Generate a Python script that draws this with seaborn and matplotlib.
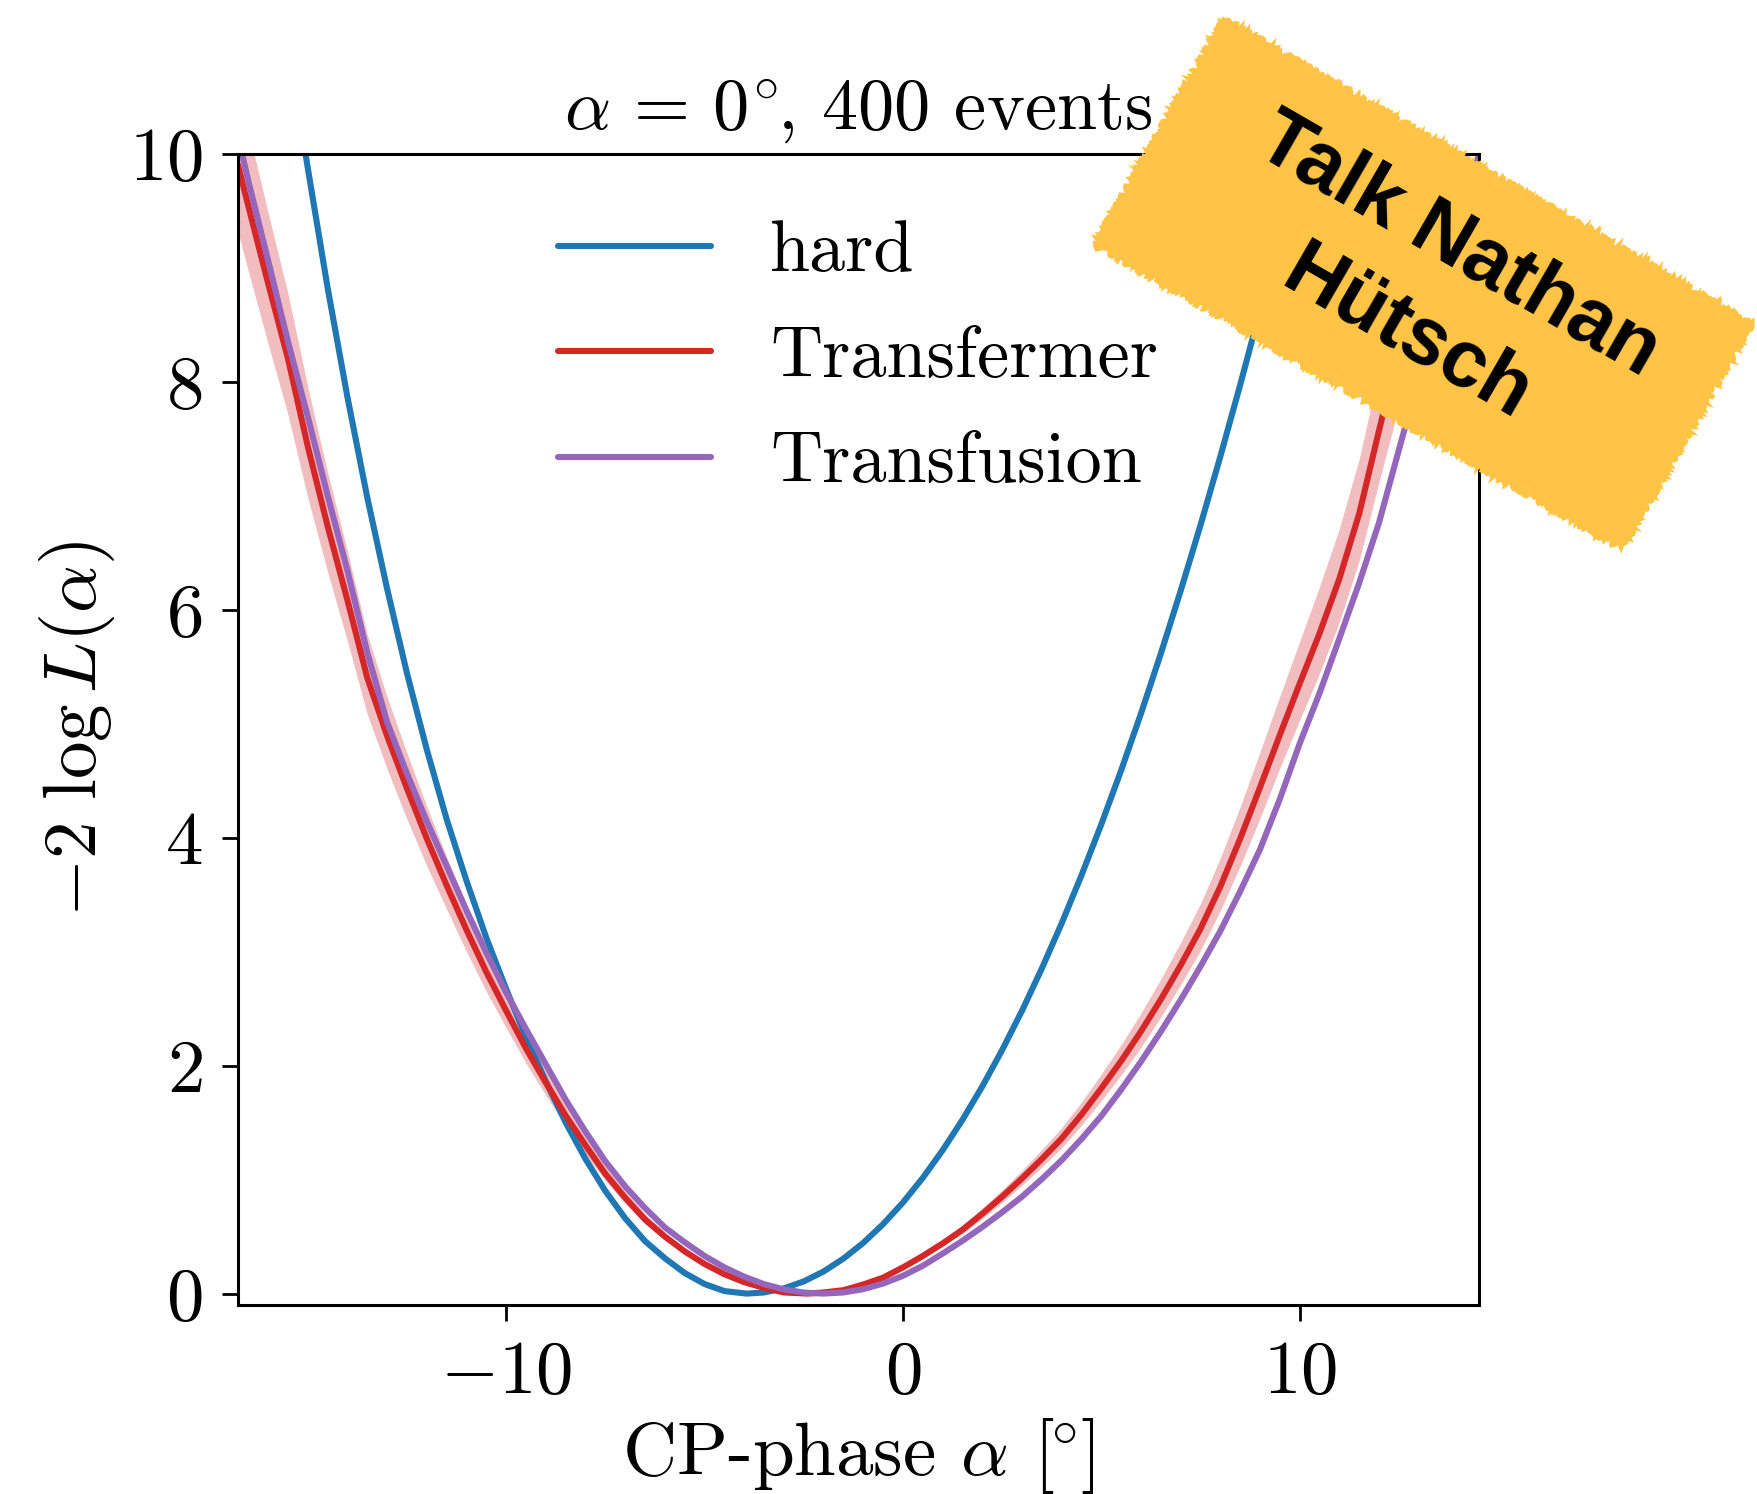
import numpy as np
import pandas as pd
import matplotlib
matplotlib.use("Agg")
import matplotlib.pyplot as plt
from matplotlib.lines import Line2D
from matplotlib.patches import Polygon
import seaborn as sns

# Profile likelihood scans, -2 log L versus CP phase alpha (degrees)
hard_x = [-16.76, -16.0, -15.5, -15.0, -14.5, -14.0, -13.5, -13.0, -12.5, -12.0,
          -11.5, -11.0, -10.5, -10.0, -9.5, -9.0, -8.5, -8.0, -7.5, -7.0,
          -6.5, -6.0, -5.5, -5.0, -4.5, -3.94, -3.5, -3.0, -2.5, -2.0,
          -1.5, -1.0, -0.5, 0.0, 0.5, 1.0, 1.5, 2.0, 2.5, 3.0,
          3.5, 4.0, 4.5, 5.0, 5.5, 6.0, 6.5, 7.0, 7.5, 8.0,
          8.5, 9.0, 9.5, 10.0, 10.5]
hard_y = [14.10, 12.20, 10.98, 9.87, 8.82, 7.86, 6.98, 6.18, 5.44, 4.77,
          4.16, 3.62, 3.12, 2.67, 2.25, 1.86, 1.50, 1.18, 0.90, 0.66,
          0.46, 0.31, 0.18, 0.084, 0.022, 0.0, 0.010, 0.046, 0.107, 0.194,
          0.307, 0.445, 0.609, 0.799, 1.015, 1.257, 1.524, 1.817, 2.136, 2.480,
          2.851, 3.247, 3.669, 4.116, 4.589, 5.088, 5.613, 6.164, 6.740, 7.342,
          7.970, 8.623, 9.39, 10.22, 11.05]

transfermer_x = [-16.76, -16.5, -16.0, -15.5, -15.0, -14.5, -14.0, -13.5, -13.0, -12.5,
                 -12.0, -11.5, -11.0, -10.5, -10.0, -9.5, -9.0, -8.5, -8.0, -7.5,
                 -7.0, -6.5, -6.0, -5.5, -5.0, -4.5, -4.0, -3.5, -3.0, -2.4,
                 -2.0, -1.5, -1.0, -0.5, 0.0, 0.5, 1.0, 1.5, 2.0, 2.5,
                 3.0, 3.5, 4.0, 4.5, 5.0, 5.5, 6.0, 6.5, 7.0, 7.5,
                 8.0, 8.5, 9.0, 9.5, 10.0, 10.5, 11.0, 11.5, 12.0, 12.5,
                 13.0, 13.5, 14.0, 14.52]
transfermer_y = [9.90, 9.54, 8.86, 8.20, 7.43, 6.73, 6.08, 5.40, 4.89, 4.43,
                 3.99, 3.58, 3.19, 2.82, 2.48, 2.15, 1.85, 1.56, 1.30, 1.05,
                 0.84, 0.65, 0.50, 0.37, 0.26, 0.17, 0.10, 0.05, 0.01, 0.00,
                 0.01, 0.03, 0.08, 0.14, 0.23, 0.33, 0.44, 0.56, 0.70, 0.85,
                 1.01, 1.18, 1.36, 1.57, 1.80, 2.04, 2.30, 2.58, 2.88, 3.20,
                 3.57, 3.99, 4.44, 4.90, 5.35, 5.79, 6.27, 6.84, 7.57, 8.28,
                 8.89, 9.56, 10.25, 10.99]
# spread of the Transfermer scan above / below the central curve
transfermer_err_up = [0.69, 0.67, 0.62, 0.57, 0.52, 0.47, 0.43, 0.38, 0.34, 0.31,
                      0.28, 0.25, 0.22, 0.20, 0.17, 0.15, 0.13, 0.11, 0.09, 0.07,
                      0.06, 0.05, 0.035, 0.026, 0.018, 0.012, 0.007, 0.004, 0.001, 0.0,
                      0.001, 0.002, 0.006, 0.010, 0.016, 0.023, 0.031, 0.039, 0.049, 0.060,
                      0.070, 0.083, 0.095, 0.110, 0.126, 0.143, 0.160, 0.180, 0.200, 0.220,
                      0.25, 0.28, 0.31, 0.34, 0.37, 0.41, 0.44, 0.48, 0.53, 0.58,
                      0.62, 0.67, 0.72, 0.77]
transfermer_err_dn = [0.59, 0.57, 0.53, 0.49, 0.45, 0.40, 0.36, 0.32, 0.29, 0.27,
                      0.24, 0.21, 0.19, 0.17, 0.15, 0.13, 0.11, 0.09, 0.08, 0.06,
                      0.05, 0.04, 0.030, 0.022, 0.016, 0.010, 0.006, 0.003, 0.001, 0.0,
                      0.001, 0.002, 0.005, 0.008, 0.014, 0.020, 0.026, 0.034, 0.042, 0.051,
                      0.060, 0.071, 0.082, 0.094, 0.108, 0.122, 0.140, 0.155, 0.170, 0.190,
                      0.21, 0.24, 0.27, 0.29, 0.32, 0.35, 0.38, 0.41, 0.45, 0.50,
                      0.53, 0.57, 0.62, 0.66]

transfusion_x = [-16.76, -16.5, -16.0, -15.5, -15.0, -14.5, -14.0, -13.5, -13.0, -12.5,
                 -12.0, -11.5, -11.0, -10.5, -10.0, -9.5, -9.0, -8.5, -8.0, -7.5,
                 -7.0, -6.5, -6.0, -5.5, -5.0, -4.5, -4.0, -3.5, -3.0, -2.5,
                 -2.0, -1.5, -1.0, -0.5, 0.0, 0.5, 1.0, 1.5, 2.0, 2.5,
                 3.0, 3.5, 4.0, 4.5, 5.0, 5.5, 6.0, 6.5, 7.0, 7.5,
                 8.0, 8.5, 9.0, 9.5, 10.0, 10.5, 11.0, 11.5, 12.0, 12.5,
                 13.0, 13.5, 14.0, 14.52]
transfusion_y = [10.15, 9.76, 9.06, 8.35, 7.69, 7.00, 6.34, 5.62, 5.01, 4.56,
                 4.14, 3.75, 3.36, 2.99, 2.64, 2.32, 2.01, 1.70, 1.42, 1.16,
                 0.94, 0.75, 0.58, 0.45, 0.33, 0.23, 0.148, 0.083, 0.037, 0.009,
                 0.0, 0.010, 0.039, 0.088, 0.156, 0.244, 0.351, 0.463, 0.584, 0.713,
                 0.850, 1.004, 1.170, 1.356, 1.558, 1.789, 2.035, 2.298, 2.576, 2.870,
                 3.180, 3.528, 3.896, 4.338, 4.824, 5.266, 5.746, 6.233, 6.762, 7.40,
                 8.03, 8.70, 9.32, 9.99]

models = ["hard", "Transfermer", "Transfusion"]
colors = ["#1f77b4", "#d62728", "#9467bd"]

x_ticks = [-10, 0, 10]
y_ticks = [0, 2, 4, 6, 8, 10]

df = pd.concat([
    pd.DataFrame({"alpha": hard_x, "nll": hard_y, "model": "hard"}),
    pd.DataFrame({"alpha": transfermer_x, "nll": transfermer_y, "model": "Transfermer"}),
    pd.DataFrame({"alpha": transfusion_x, "nll": transfusion_y, "model": "Transfusion"}),
], ignore_index=True)

sns.set_theme(style="ticks", rc={
    "axes.edgecolor": "black",
    "axes.labelcolor": "black",
    "text.color": "black",
    "axes.linewidth": 1.1,
    "xtick.color": "black",
    "ytick.color": "black",
    "xtick.major.size": 5.8,
    "ytick.major.size": 5.8,
    "xtick.major.width": 1.0,
    "ytick.major.width": 1.0,
    "xtick.major.pad": 7,
    "ytick.major.pad": 7,
    "xtick.direction": "out",
    "ytick.direction": "out",
})
plt.rcParams["font.family"] = "serif"
plt.rcParams["font.serif"] = ["cmr10"]
plt.rcParams["mathtext.fontset"] = "cm"
plt.rcParams["axes.formatter.use_mathtext"] = True
plt.rcParams["axes.unicode_minus"] = True

W, H, DPI = 1757, 1494, 200
LW = 2.2
fig = plt.figure(figsize=(W / DPI, H / DPI), dpi=DPI)
fig.patch.set_facecolor("white")
ax = fig.add_axes([238 / W, 1 - 1305 / H, (1479 - 238) / W, (1305 - 153.5) / H])

# uncertainty band of the Transfermer scan
tf_y = np.array(transfermer_y)
ax.fill_between(transfermer_x, tf_y - np.array(transfermer_err_dn),
                tf_y + np.array(transfermer_err_up),
                color=colors[1], alpha=0.3, lw=0, zorder=1)

sns.lineplot(data=df, x="alpha", y="nll", hue="model", hue_order=models,
             palette=dict(zip(models, colors)), estimator=None, linewidth=LW,
             legend=False, ax=ax, zorder=2)

ax.set_xlim(-16.76, 14.52)
ax.set_ylim(-0.1, 10)
ax.set_xticks(x_ticks)
ax.set_yticks(y_ticks)
ax.tick_params(labelsize=27)
ax.set_xlabel(r"CP-phase $\alpha$ [$^{\!\!\circ}\!$]", fontsize=27, labelpad=3)
ax.set_ylabel(r"$-2\ \log L(\alpha)$", fontsize=27, labelpad=4)
ax.set_title(r"$\alpha\,=\,0^{\!\circ\!\!}$, 400 events", fontsize=26, pad=9)

handles = [Line2D([], [], color=c, lw=LW) for c in colors]
ax.legend(handles, models, loc="upper left", bbox_to_anchor=(0.2345, 0.967),
          frameon=False, fontsize=26, handlelength=2.12, handletextpad=0.82,
          labelspacing=0.56, borderaxespad=0)

# rotated note card in the upper right corner
cx, cy = 1423, 284          # centre in pixels, from the top-left
half_long, half_short = 304, 129.5
ang = np.deg2rad(30)
u = np.array([np.cos(ang), np.sin(ang)])
v = np.array([-np.sin(ang), np.cos(ang)])
corners = [np.array([cx, cy]) + a * half_long * u + b * half_short * v
           for a, b in [(-1, -1), (1, -1), (1, 1), (-1, 1)]]
corners = [(px / W, 1 - py / H) for px, py in corners]
card = Polygon(corners, closed=True, transform=fig.transFigure,
               facecolor="#FFC445", edgecolor="#FFC445", lw=1.5, zorder=5)
card.set_sketch_params(scale=3, length=6, randomness=6)
fig.add_artist(card)
fig.text(1432 / W, 1 - 291 / H, "Talk Nathan\nHütsch", rotation=-30,
         rotation_mode="anchor", ha="center", va="center", multialignment="center",
         fontsize=29, fontweight="bold", family=["Liberation Sans", "DejaVu Sans"],
         linespacing=1.45, color="black", zorder=6)

fig.savefig("out.png", dpi=DPI)
